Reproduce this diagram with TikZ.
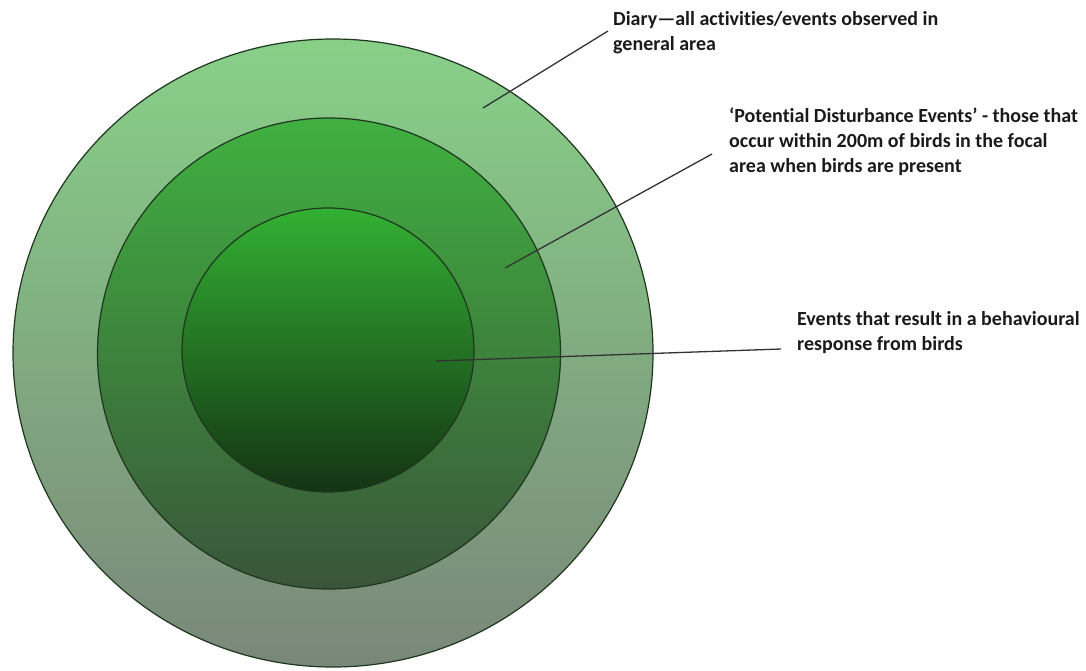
\documentclass[tikz,border=0pt]{standalone}
\usepackage{fontspec}
\setmainfont{Carlito}[Ligatures=NoCommon]
\usetikzlibrary{shapes.geometric}
\definecolor{txt}{HTML}{1A1A1A}
\definecolor{rim}{HTML}{1E361E}
\definecolor{outT}{HTML}{88D088}
\definecolor{outB}{HTML}{7A877A}
\definecolor{midT}{HTML}{40B040}
\definecolor{midB}{HTML}{3A553A}
\definecolor{innT}{HTML}{33B033}
\definecolor{innB}{HTML}{143414}
\definecolor{lead}{HTML}{333333}
\tikzset{
  ring/.style={ellipse, draw=rim, line width=1.2pt, inner sep=0pt},
  label/.style={anchor=north west, inner sep=0pt, align=left, text=txt,
    font=\fontsize{20}{25}\selectfont\bfseries},
  leader/.style={draw=lead, line width=1.3pt}
}
\begin{document}
\begin{tikzpicture}[x=1pt,y=-1pt]
\useasboundingbox (0,0) rectangle (1086,670);
\node[ring, top color=outT, bottom color=outB, minimum width=640pt, minimum height=628pt] (outer) at (333,353) {};
\node[ring, top color=midT, bottom color=midB, minimum width=463pt, minimum height=471pt] (middle) at (329,353.5) {};
\node[ring, top color=innT, bottom color=innB, minimum width=292pt, minimum height=284pt] (inner) at (328,350) {};

\node[label] (diary) at (613,11) {Diary—all activities/events observed in\\general area};
\node[label] (potential) at (729,108) {‘Potential Disturbance Events’ - those that\\occur within 200m of birds in the focal\\area when birds are present};
\node[label] (events) at (797,311) {Events that result in a behavioural\\response from birds};

\coordinate (d1) at (483,108);
\coordinate (d2) at (608,31);
\coordinate (p1) at (505,268);
\coordinate (p2) at (712,154);
\coordinate (e1) at (436,361);
\coordinate (e2) at (781,349);
\draw[leader] (d1) -- (d2);
\draw[leader] (p1) -- (p2);
\draw[leader] (e1) -- (e2);
\end{tikzpicture}
\end{document}
